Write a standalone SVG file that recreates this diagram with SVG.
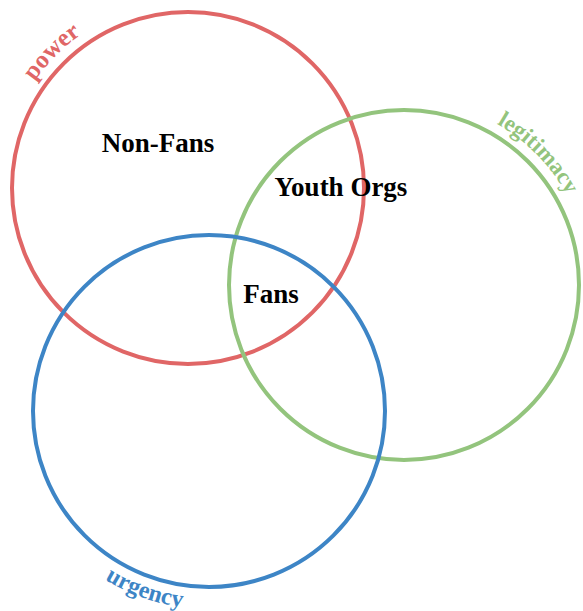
<svg xmlns="http://www.w3.org/2000/svg" width="583" height="611" viewBox="0 0 583 611">
<style>
.c{fill:none;stroke-width:4}
.t{font-family:"Liberation Serif",serif;font-weight:bold;font-size:27px;fill:#000}
.l{font-family:"Liberation Serif",serif;font-weight:bold;font-size:25px}
</style>
<defs>
<path id="pp" d="M 1 188 A 187 187 0 0 1 188 1"/>
<path id="pl" d="M 404 99 A 186 186 0 0 1 590 285"/>
<path id="pu" d="M 11 411 A 198 198 0 0 0 407 411"/>
</defs>
<rect width="583" height="611" fill="#fff"/>
<g id="connectors"></g>
<g id="power">
<circle class="c" cx="188" cy="188" r="176" stroke="#e06666"/>
<text class="l" fill="#e06666"><textPath href="#pp" startOffset="50%" text-anchor="middle">power</textPath></text>
</g>
<g id="legitimacy">
<circle class="c" cx="404" cy="285" r="175" stroke="#93c47d"/>
<text class="l" fill="#93c47d" style="font-size:23px"><textPath href="#pl" startOffset="50.5%" text-anchor="middle">legitimacy</textPath></text>
</g>
<g id="urgency">
<circle class="c" cx="209" cy="411" r="176" stroke="#3d85c6"/>
<text class="l" fill="#3d85c6" style="font-size:24px"><textPath href="#pu" startOffset="39%" text-anchor="middle">urgency</textPath></text>
</g>
<g id="nonfans"><text class="t" x="158" y="152" text-anchor="middle">Non-Fans</text></g>
<g id="youthorgs"><text class="t" x="341" y="196" text-anchor="middle">Youth Orgs</text></g>
<g id="fans"><text class="t" x="271" y="303" text-anchor="middle">Fans</text></g>
</svg>
